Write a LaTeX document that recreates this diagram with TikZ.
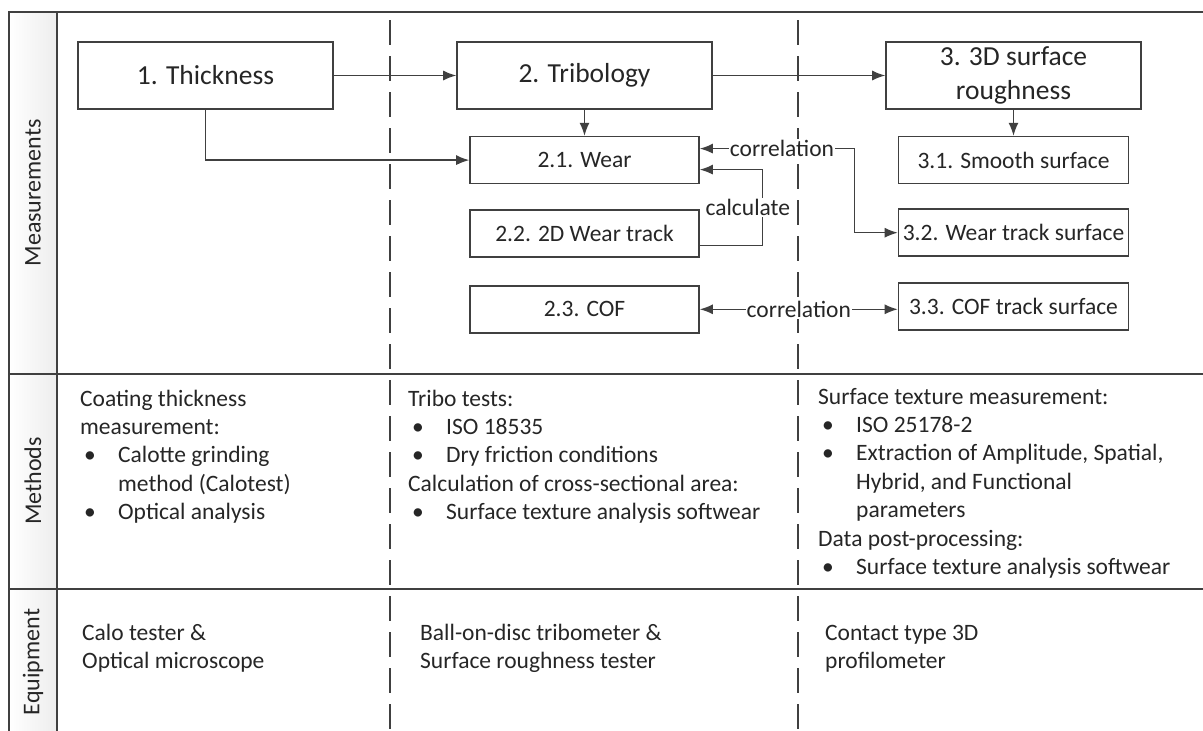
\documentclass[tikz,border=0pt]{standalone}
\usepackage{fontspec}
\setmainfont{Carlito}
\usetikzlibrary{positioning, arrows.meta}

\definecolor{linegray}{HTML}{404040}
\definecolor{textgray}{HTML}{262626}

\newcommand{\bitem}{\makebox[38pt][l]{\hspace{4pt}\textbullet}}
\newcommand{\bindent}{\hspace*{38pt}}

\begin{document}
\begin{tikzpicture}[
        x=1pt, y=-1pt,
        box/.style = {draw=linegray, line width=1.6pt, text=textgray, minimum width=255pt, minimum height=67pt, align=center, font=\fontsize{27.5}{34}\selectfont},
        subbox/.style = {draw=linegray, line width=1.6pt, text=textgray, minimum width=229pt, minimum height=47pt, font=\fontsize{23.5}{28}\selectfont},
        wide/.style = {minimum width=230pt},
        arrow/.style = {-{Latex[length=13pt, width=10pt]}, draw=linegray, line width=1.3pt},
        biarrow/.style = {{Latex[length=13pt, width=10pt]}-{Latex[length=13pt, width=10pt]}, draw=linegray, line width=1.3pt},
        grid/.style = {draw=linegray, line width=1.6pt},
        lane/.style = {draw=linegray, line width=1.3pt, dash pattern=on 25pt off 11pt},
        rowlabel/.style = {rotate=90, text=textgray, font=\fontsize{24}{28}\selectfont},
        celltext/.style = {anchor=north west, align=left, inner sep=0pt, text=textgray, font=\fontsize{23.5}{28.4}\selectfont},
        tag/.style = {fill=white, inner sep=1pt, text=textgray, font=\fontsize{23.5}{28}\selectfont}
    ]
        \fill[white] (0,0) rectangle (1203,731);
        \useasboundingbox (0,0) rectangle (1203,731);

        \shade[left color=white, right color=black!7] (9,12) rectangle (57,731);
        \draw[grid] (9,731) -- (9,12) -- (1203,12);
        \draw[grid] (57,12) -- (57,731);
        \draw[grid] (9,374) -- (1203,374);
        \draw[grid] (9,589) -- (1203,589);
        \draw[lane] (390,20) -- (390,731);
        \draw[lane] (798,20) -- (798,731);

        \node[rowlabel] (lmeas) at (33,193) {Measurements};
        \node[rowlabel] (lmeth) at (33,481) {Methods};
        \node[rowlabel] (lequip) at (33,662) {Equipment};

        \node[box] (thick) at (205.5,75.5) {1. Thickness};
        \node[box] (trib) at (584.5,75.5) {2. Tribology};
        \node[box] (rough) at (1013.5,75.5) {3. 3D surface\\roughness};
        \node[subbox, below=26pt of trib] (wear) {2.1. Wear};
        \node[subbox, below=25pt of wear] (track2d) {2.2. 2D Wear track};
        \node[subbox, below=27pt of track2d] (cof) {2.3. COF};
        \node[subbox, wide, below=26pt of rough] (smooth) {3.1. Smooth surface};
        \node[subbox, wide, below=24pt of smooth] (wtsurf) {3.2. Wear track surface};
        \node[subbox, wide, below=25pt of wtsurf] (cofsurf) {3.3. COF track surface};

        \draw[arrow] (thick) -- (trib);
        \draw[arrow] (trib) -- (rough);
        \draw[arrow] (trib) -- (wear);
        \draw[arrow] (rough) -- (smooth);
        \draw[arrow] (thick.south) |- (wear.west);
        \draw[biarrow] ([yshift=11.5pt]wear.east) -- ++(155,0) node[tag, pos=0.53] {correlation} |- (wtsurf.west);
        \draw[arrow] ([yshift=-12pt]track2d.east) -- ++(63,0) |- ([yshift=-9.5pt]wear.east) node[tag, pos=0.25, xshift=-15pt] {calculate};
        \draw[biarrow] (cof.east) -- (cof.east -| cofsurf.west) node[tag, midway] {correlation};

        \node[celltext] (meth1) at (80,386) {\strut Coating thickness\\measurement:\\\bitem Calotte grinding\\\bindent method (Calotest)\\\bitem Optical analysis};
        \node[celltext] (meth2) at (408,386) {\strut Tribo tests:\\\bitem ISO 18535\\\bitem Dry friction conditions\\Calculation of cross-sectional area:\\\bitem Surface texture analysis softwear};
        \node[celltext] (meth3) at (818,384) {\strut Surface texture measurement:\\\bitem ISO 25178-2\\\bitem Extraction of Amplitude, Spatial,\\\bindent Hybrid, and Functional\\\bindent parameters\\Data post-processing:\\\bitem Surface texture analysis softwear};

        \node[celltext] (equip1) at (82,620) {\strut Calo tester \&\\Optical microscope};
        \node[celltext] (equip2) at (420,620) {\strut Ball-on-disc tribometer \&\\Surface roughness tester};
        \node[celltext] (equip3) at (825,620) {\strut Contact type 3D\\profilometer};
    \end{tikzpicture}
\end{document}
